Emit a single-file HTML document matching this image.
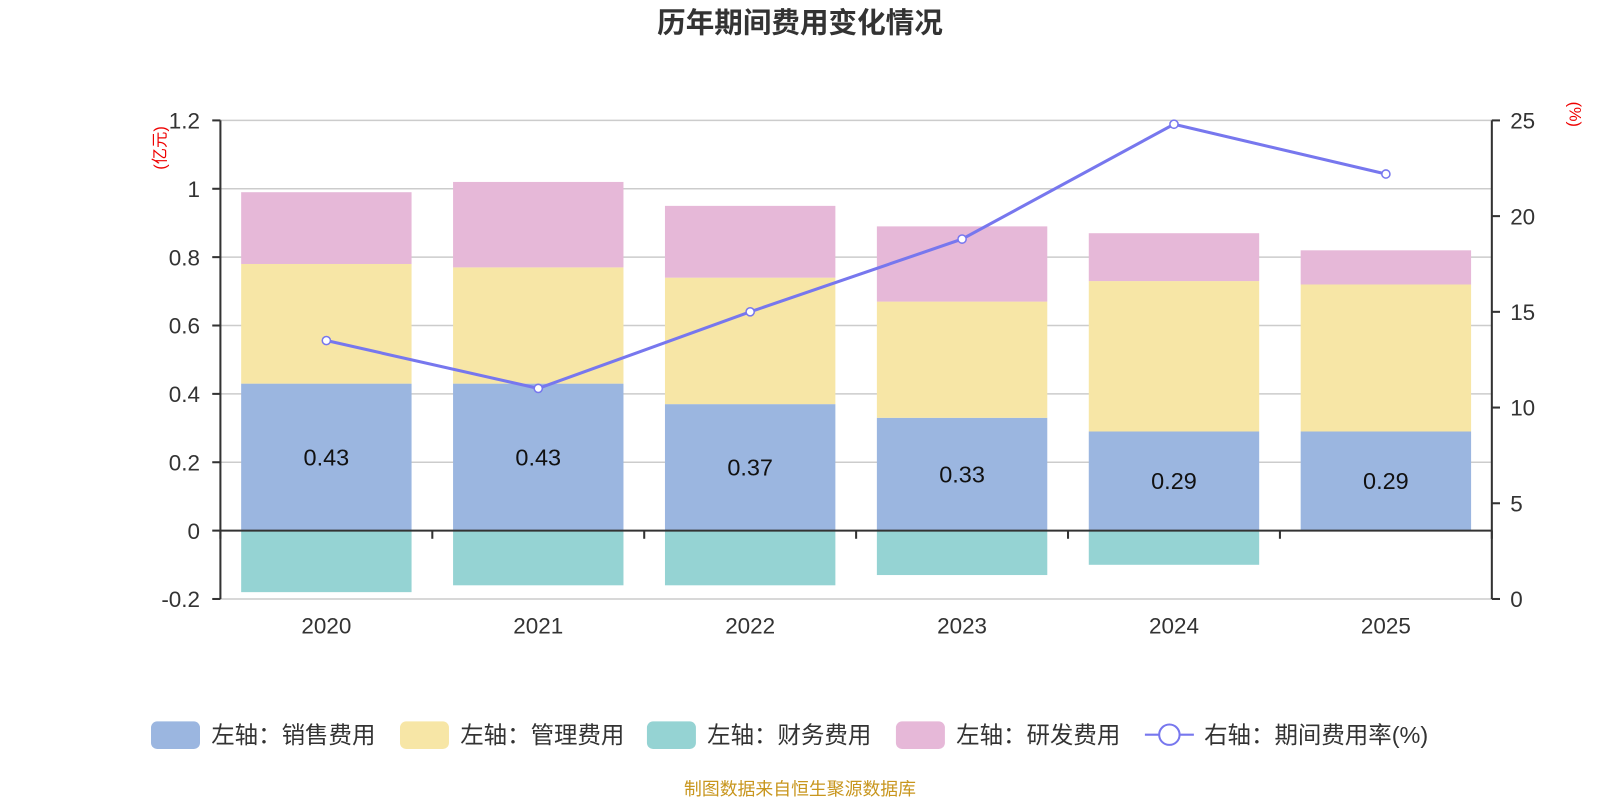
<!DOCTYPE html>
<html><head><meta charset="utf-8"><style>
body{margin:0;background:#fff;font-family:"Liberation Sans","Noto Sans CJK SC",sans-serif;}
</style></head><body>
<svg id="c" width="1600" height="800" viewBox="0 0 1568 784" xmlns="http://www.w3.org/2000/svg" font-family="Liberation Sans, Noto Sans CJK SC, sans-serif">
<text x="784" y="32" text-anchor="middle" font-size="28" font-weight="bold" fill="#333">历年期间费用变化情况</text>
<text x="0" y="0" transform="translate(162,145) rotate(-90)" text-anchor="middle" font-size="16" fill="#e00">(亿元)</text>
<text x="0" y="0" transform="translate(1538,112) rotate(90)" text-anchor="middle" font-size="16" fill="#e00">(%)</text>
<g id="grid"></g><g id="bars"></g><g id="axes"></g><g id="line"></g>
<g id="legend"></g>
<text x="784" y="779" text-anchor="middle" font-size="17.5" fill="#c8961e">制图数据来自恒生聚源数据库</text>
</svg>
<script>
const years=["2020","2021","2022","2023","2024","2025"];
const sales=[0.43,0.43,0.37,0.33,0.29,0.29];
const admin=[0.35,0.34,0.37,0.34,0.44,0.43];
const finance=[-0.18,-0.16,-0.16,-0.13,-0.10,0];
const rd=[0.21,0.25,0.21,0.22,0.14,0.10];
const rate=[13.5,11.0,15.0,18.8,24.8,22.2];
const leftTicks=[-0.2,0,0.2,0.4,0.6,0.8,1,1.2];
const rightTicks=[0,5,10,15,20,25];
const NS="http://www.w3.org/2000/svg";
const X0=216,X1=1462,Y0=520,PX=335;
const yL=v=>Y0-v*PX;
const yR=v=>587-v*(469/25);
const bw=(X1-X0)/years.length;
const xC=i=>X0+bw*(i+0.5);
function mk(p,t,a){const e=document.createElementNS(NS,t);for(const k in a)e.setAttribute(k,a[k]);document.getElementById(p).appendChild(e);return e;}
leftTicks.forEach(v=>{
 const l=mk('grid','line',{x1:X0,x2:X1,y1:yL(v),y2:yL(v),stroke:v===0?'none':'#ccc','stroke-width':1.5});
 
 
 const t=mk('axes','text',{x:X0-20,y:yL(v)+8,'text-anchor':'end','font-size':22,fill:'#333'});t.textContent=String(v);
 
 
 mk('axes','line',{x1:X0-8,x2:X0,y1:yL(v),y2:yL(v),stroke:'#333','stroke-width':2});
});
rightTicks.forEach(v=>{
 const t=mk('axes','text',{x:X1+18,y:yR(v)+8,'font-size':22,fill:'#333'});t.textContent=String(v);
 
 
 mk('axes','line',{x1:X1,x2:X1+8,y1:yR(v),y2:yR(v),stroke:'#333','stroke-width':2});
});
mk('axes','line',{x1:X0,x2:X0,y1:yL(1.2),y2:yL(-0.2),stroke:'#333','stroke-width':2});
mk('axes','line',{x1:X1,x2:X1,y1:yR(25),y2:yR(0),stroke:'#333','stroke-width':2});
mk('axes','line',{x1:X0,x2:X1,y1:Y0,y2:Y0,stroke:'#333','stroke-width':2});
for(let i=0;i<=years.length;i++)mk('axes','line',{x1:X0+bw*i,x2:X0+bw*i,y1:Y0,y2:Y0+8,stroke:'#333','stroke-width':2});
const BW=167;
years.forEach((y,i)=>{
 const t=mk('axes','text',{x:xC(i),y:621,'text-anchor':'middle','font-size':22,fill:'#333'});t.textContent=y;
 
 
 let base=0;
 [[sales,'#9bb6e0','sales'],[admin,'#f7e6a6','admin'],[rd,'#e6b8d8','rd']].forEach(([arr,col,n])=>{
  const r=mk('bars','rect',{x:xC(i)-BW/2,y:yL(base+arr[i]),width:BW,height:arr[i]*PX,fill:col});
  
  
  base+=arr[i];
 });
 if(finance[i]<0){const r=mk('bars','rect',{x:xC(i)-BW/2,y:Y0,width:BW,height:-finance[i]*PX,fill:'#95d3d3'});
  
  }
 const lb=mk('bars','text',{x:xC(i),y:yL(sales[i]/2)+8,'text-anchor':'middle','font-size':23,fill:'#111'});lb.textContent=sales[i].toFixed(2);
 
 
});
const pl=mk('line','polyline',{points:rate.map((v,i)=>xC(i)+','+yR(v)).join(' '),fill:'none',stroke:'#7777ee','stroke-width':3});


rate.forEach((v,i)=>{const c=mk('line','circle',{cx:xC(i),cy:yR(v),r:4,fill:'#fff',stroke:'#7777ee','stroke-width':1.5});
 
 });
const leg=[["左轴：销售费用",'#9bb6e0',148],["左轴：管理费用",'#f7e6a6',392],["左轴：财务费用",'#95d3d3',634],["左轴：研发费用",'#e6b8d8',878]];
leg.forEach(([t,c,x])=>{
 const r=mk('legend','rect',{x:x,y:707,width:48,height:27,rx:6,fill:c});
 
 
 const tx=mk('legend','text',{x:x+59,y:728,'font-size':23,fill:'#333'});tx.textContent=t;
 
 
});
mk('legend','line',{x1:1122,x2:1170,y1:720,y2:720,stroke:'#7777ee','stroke-width':2});
mk('legend','circle',{cx:1146,cy:720,r:10,fill:'#fff',stroke:'#7777ee','stroke-width':2});
const lt=mk('legend','text',{x:1180,y:728,'font-size':23,fill:'#333'});lt.textContent="右轴：期间费用率(%)";


</script>
</body></html>
